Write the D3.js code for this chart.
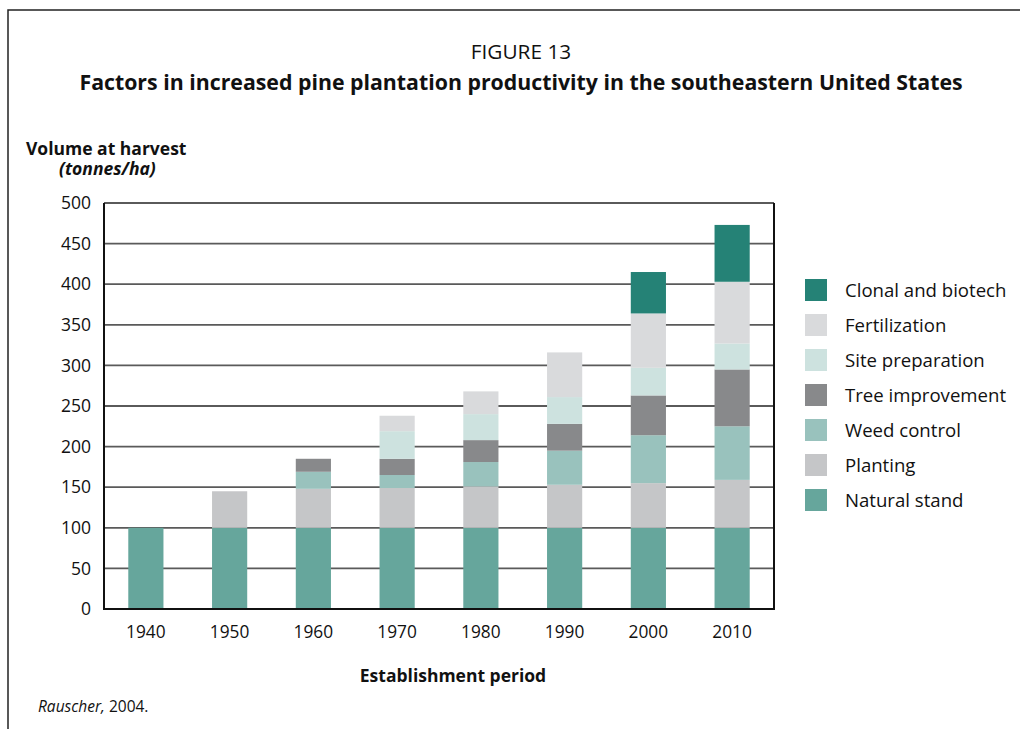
<!DOCTYPE html>
<html><head><meta charset="utf-8">
<script src="https://cdn.jsdelivr.net/npm/d3@7"></script>
<style>body{margin:0;background:#fff}svg{display:block}</style>
</head><body>
<script>
const categories = ["1940","1950","1960","1970","1980","1990","2000","2010"];
const seriesNames = ["Natural stand","Planting","Weed control","Tree improvement","Site preparation","Fertilization","Clonal and biotech"];
const naturalStand     = [100,100,100,100,100,100,100,100];
const planting         = [0,45,48,49,51,53,55,59];
const weedControl      = [0,0,21,16,30,42,59,66];
const treeImprovement  = [0,0,16,20,27,33,49,70];
const sitePreparation  = [0,0,0,34,32,33,34,32];
const fertilization    = [0,0,0,19,28,55,67,76];
const clonalBiotech    = [0,0,0,0,0,0,51,70];
const yTicks = [0,50,100,150,200,250,300,350,400,450,500];
const colors = ["#66a69c","#c5c6c8","#99c2bd","#88898b","#cde2df","#d9dadc","#258276"];

const seriesValues = [naturalStand,planting,weedControl,treeImprovement,sitePreparation,fertilization,clonalBiotech];
const table = categories.map((c,i)=>{const o={cat:c};seriesNames.forEach((s,j)=>o[s]=seriesValues[j][i]);return o;});

const W=1025,H=729;
const FONT="'Open Sans', 'Noto Sans', sans-serif";
const svg=d3.select("body").append("svg").attr("width",W).attr("height",H).style("font-family",FONT);

// frame
svg.append("path").attr("d","M8,729 V10 H1020").attr("fill","none").attr("stroke","#222").attr("stroke-width",1.5);

svg.append("text").attr("x",521).attr("y",59).attr("text-anchor","middle").attr("font-size",20.8).attr("fill","#111").text("FIGURE 13");
svg.append("text").attr("x",521).attr("y",90).attr("text-anchor","middle").attr("font-size",21.3).attr("font-weight","bold").attr("fill","#111").text("Factors in increased pine plantation productivity in the southeastern United States");

svg.append("text").attr("x",26).attr("y",155).attr("font-size",17.5).attr("font-weight","bold").attr("fill","#111").text("Volume at harvest");
svg.append("text").attr("x",59).attr("y",175).attr("font-size",17.5).attr("font-weight","bold").attr("font-style","italic").attr("fill","#111").text("(tonnes/ha)");

const x=d3.scaleBand().domain(categories).range([104,774]).paddingInner(0.58).paddingOuter(0.29);
const y=d3.scaleLinear().domain([0,500]).range([609,203]);

// gridlines
svg.append("g").selectAll("line").data(yTicks.filter(t=>t>0)).join("line")
 .attr("x1",104).attr("x2",774).attr("y1",d=>y(d)).attr("y2",d=>y(d))
 .attr("stroke","#5a5a5a").attr("stroke-width",1.8);

const stack=d3.stack().keys(seriesNames)(table);
svg.append("g").selectAll("g").data(stack).join("g").attr("fill",(d,i)=>colors[i])
 .selectAll("rect").data(d=>d.filter(p=>p[1]-p[0]>0)).join("rect")
 .attr("x",d=>x(d.data.cat)).attr("width",x.bandwidth())
 .attr("y",d=>y(d[1])).attr("height",d=>y(d[0])-y(d[1]));

// box
svg.append("path").attr("d",`M104,203 V609 H774 V203`).attr("fill","none").attr("stroke","#111").attr("stroke-width",2);

const ya=svg.append("g").attr("transform","translate(104,0)").call(d3.axisLeft(y).tickValues(yTicks).tickSize(0).tickPadding(13));
ya.select(".domain").remove();
ya.selectAll("text").attr("font-size",17.5).attr("font-family",FONT).attr("fill","#111");

const xa=svg.append("g").attr("transform","translate(0,609)").call(d3.axisBottom(x).tickSize(0).tickPadding(17));
xa.select(".domain").remove();
xa.selectAll("text").attr("font-size",17.3).attr("font-family",FONT).attr("fill","#111");

svg.append("text").attr("x",453).attr("y",682).attr("text-anchor","middle").attr("font-size",17.5).attr("font-weight","bold").attr("fill","#111").text("Establishment period");

const src=svg.append("text").attr("x",38).attr("y",712).attr("font-size",15.5).attr("fill","#111");
src.append("tspan").attr("font-style","italic").text("Rauscher,");
src.append("tspan").text(" 2004.");

// legend
const legOrder=seriesNames.map((s,i)=>({s,c:colors[i]})).reverse();
const lg=svg.append("g").selectAll("g").data(legOrder).join("g").attr("transform",(d,i)=>`translate(805,${279+i*35})`);
lg.append("rect").attr("width",22).attr("height",22).attr("fill",d=>d.c);
lg.append("text").attr("x",40).attr("y",17.5).attr("font-size",18.6).attr("fill","#111").text(d=>d.s);
</script>
</body></html>
